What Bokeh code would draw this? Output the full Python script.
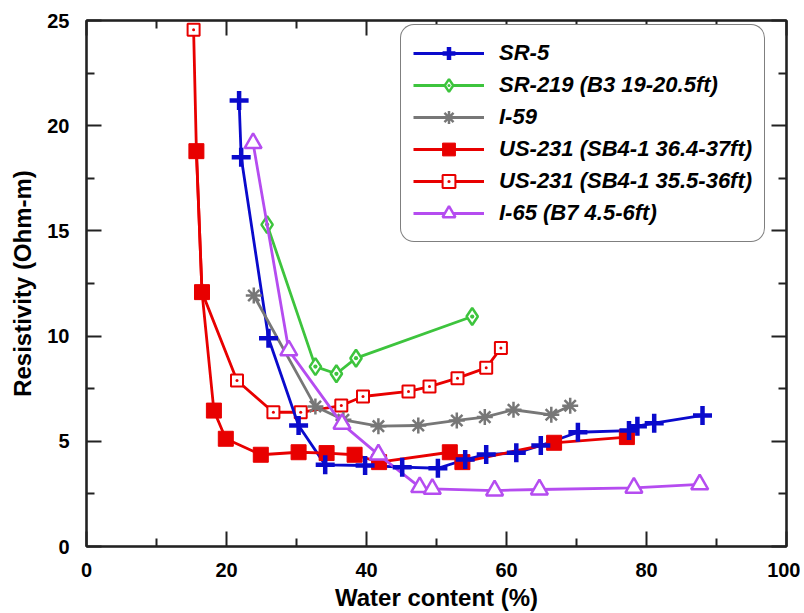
from bokeh.plotting import figure
from bokeh.models import Range1d, FixedTicker, LinearAxis, Legend, LegendItem
from bokeh.embed import file_html
from bokeh.resources import INLINE

# ---- data (water content %, resistivity Ohm-m) ----
sr5_x = [21.8, 22.1, 26.0, 30.3, 34.1, 39.8, 45.1, 50.2, 54.1, 57.1, 61.4, 64.9, 70.2, 77.5, 78.7, 81.1, 88.0]
sr5_y = [21.2, 18.5, 9.9, 5.75, 3.88, 3.85, 3.77, 3.72, 4.13, 4.37, 4.45, 4.80, 5.43, 5.51, 5.72, 5.86, 6.23]

sr219_x = [25.8, 32.7, 35.7, 38.5, 55.1]
sr219_y = [15.3, 8.55, 8.21, 8.95, 10.93]

i59_x = [23.9, 32.7, 36.7, 41.7, 47.4, 52.9, 56.9, 61.0, 66.4, 69.1]
i59_y = [11.93, 6.65, 6.02, 5.72, 5.75, 5.99, 6.15, 6.50, 6.26, 6.69]

us231a_x = [15.7, 16.5, 18.2, 19.9, 24.9, 30.3, 34.3, 38.3, 41.8, 51.9, 53.7, 66.8, 77.2]
us231a_y = [18.79, 12.09, 6.46, 5.12, 4.36, 4.48, 4.44, 4.36, 4.01, 4.48, 4.01, 4.93, 5.20]

us231b_x = [15.3, 15.7, 16.5, 21.5, 26.7, 30.6, 36.4, 39.5, 46.0, 49.0, 53.0, 57.1, 59.2]
us231b_y = [24.56, 18.79, 12.09, 7.89, 6.38, 6.38, 6.70, 7.13, 7.37, 7.60, 8.00, 8.49, 9.43]

i65_x = [23.8, 28.9, 36.5, 41.7, 47.6, 49.4, 58.3, 64.7, 78.2, 87.6]
i65_y = [19.17, 9.32, 5.83, 4.37, 2.82, 2.74, 2.66, 2.71, 2.79, 2.95]

labels = ["SR-5", "SR-219 (B3 19-20.5ft)", "I-59", "US-231 (SB4-1 36.4-37ft)",
          "US-231 (SB4-1 35.5-36ft)", "I-65 (B7 4.5-6ft)"]

x_ticks = [0, 20, 40, 60, 80, 100]
x_minor = [10, 30, 50, 70, 90]
y_ticks = [0, 5, 10, 15, 20, 25]
y_minor = [2.5, 7.5, 12.5, 17.5, 22.5]

FONT = "Liberation Sans"

p = figure(width=800, height=613, output_backend="svg", toolbar_location=None,
           x_range=Range1d(0, 100), y_range=Range1d(0, 25),
           min_border_left=86, min_border_right=14, min_border_top=20, min_border_bottom=67)
p.xgrid.visible = False
p.ygrid.visible = False
p.outline_line_color = "black"
p.outline_line_width = 2

def style_axis(ax, ticks, minor, show_labels=True):
    ax.ticker = FixedTicker(ticks=ticks, minor_ticks=minor)
    ax.major_tick_in = 15
    ax.major_tick_out = 0
    ax.minor_tick_in = 8
    ax.minor_tick_out = 0
    ax.axis_line_width = 2
    ax.major_tick_line_width = 2
    ax.minor_tick_line_width = 2
    ax.axis_line_color = "#222222"
    ax.major_tick_line_color = "#222222"
    ax.minor_tick_line_color = "#222222"
    ax.major_label_text_font = FONT
    ax.major_label_text_font_style = "bold"
    ax.major_label_text_font_size = "20px"
    ax.major_label_text_color = "black" if show_labels else None
    ax.axis_label_text_font = FONT
    ax.axis_label_text_font_style = "bold"
    ax.axis_label_text_font_size = "24px"
    ax.axis_label_text_color = "black"

style_axis(p.xaxis[0], x_ticks, x_minor)
style_axis(p.yaxis[0], y_ticks, y_minor)
p.xaxis[0].axis_label = "Water content (%)"
p.yaxis[0].axis_label = "Resistivity (Ohm-m)"
p.xaxis[0].major_label_standoff = 16
p.yaxis[0].major_label_standoff = 17
p.xaxis[0].axis_label_standoff = 4
p.yaxis[0].axis_label_standoff = 8

top = LinearAxis()
style_axis(top, x_ticks, x_minor, show_labels=False)
top.major_label_text_font_size = "0px"
top.major_label_standoff = 0
p.add_layout(top, "above")
right = LinearAxis()
style_axis(right, y_ticks, y_minor, show_labels=False)
right.major_label_text_font_size = "0px"
right.major_label_standoff = 0
p.add_layout(right, "right")

BLUE = "#0a0acc"
GREEN = "#3dc43d"
GREY = "#777777"
RED = "#e80000"
VIOLET = "#b54cf0"
LW = 2.8

# US-231 open (drawn first so filled squares sit on top)
l_b = p.line(us231b_x, us231b_y, line_color=RED, line_width=LW)
m_b = p.scatter(us231b_x, us231b_y, marker="square_dot", size=12, line_color=RED,
                fill_color="white", line_width=2)

l_5 = p.line(sr5_x, sr5_y, line_color=BLUE, line_width=LW)
l_219 = p.line(sr219_x, sr219_y, line_color=GREEN, line_width=LW)
m_219 = p.scatter(sr219_x, sr219_y, marker="diamond_dot", size=17, line_color=GREEN,
                  fill_color="white", line_width=2.5)
l_59 = p.line(i59_x, i59_y, line_color=GREY, line_width=LW)
m_59 = p.scatter(i59_x, i59_y, marker="asterisk", size=16, line_color=GREY, line_width=2.5)
l_a = p.line(us231a_x, us231a_y, line_color=RED, line_width=LW)
m_a = p.scatter(us231a_x, us231a_y, marker="square", size=15, line_color=RED,
                fill_color=RED, line_width=1)
l_65 = p.line(i65_x, i65_y, line_color=VIOLET, line_width=LW)
m_65 = p.scatter(i65_x, i65_y, marker="triangle", size=17, line_color=VIOLET,
                 fill_color="white", line_width=2.5)
m_5 = p.scatter(sr5_x, sr5_y, marker="cross", size=19, line_color=BLUE, line_width=4.5)

items = [
    LegendItem(label=labels[0], renderers=[l_5, m_5]),
    LegendItem(label=labels[1], renderers=[l_219, m_219]),
    LegendItem(label=labels[2], renderers=[l_59, m_59]),
    LegendItem(label=labels[3], renderers=[l_a, m_a]),
    LegendItem(label=labels[4], renderers=[l_b, m_b]),
    LegendItem(label=labels[5], renderers=[l_65, m_65]),
]

legend = Legend(items=items, location=(314, 304))
legend.label_text_font = FONT
legend.label_text_font_style = "bold italic"
legend.label_text_font_size = "22px"
legend.label_text_color = "black"
legend.glyph_width = 71
legend.glyph_height = 32
legend.label_height = 32
legend.spacing = 0
legend.padding = 12
legend.margin = 0
legend.label_standoff = 15
legend.border_line_color = "black"
legend.border_line_width = 1.5
legend.background_fill_color = "white"
legend.background_fill_alpha = 1
try:
    legend.border_radius = 14
except Exception:
    pass
p.add_layout(legend, "center")

open("out.html", "w").write(file_html(p, INLINE))
